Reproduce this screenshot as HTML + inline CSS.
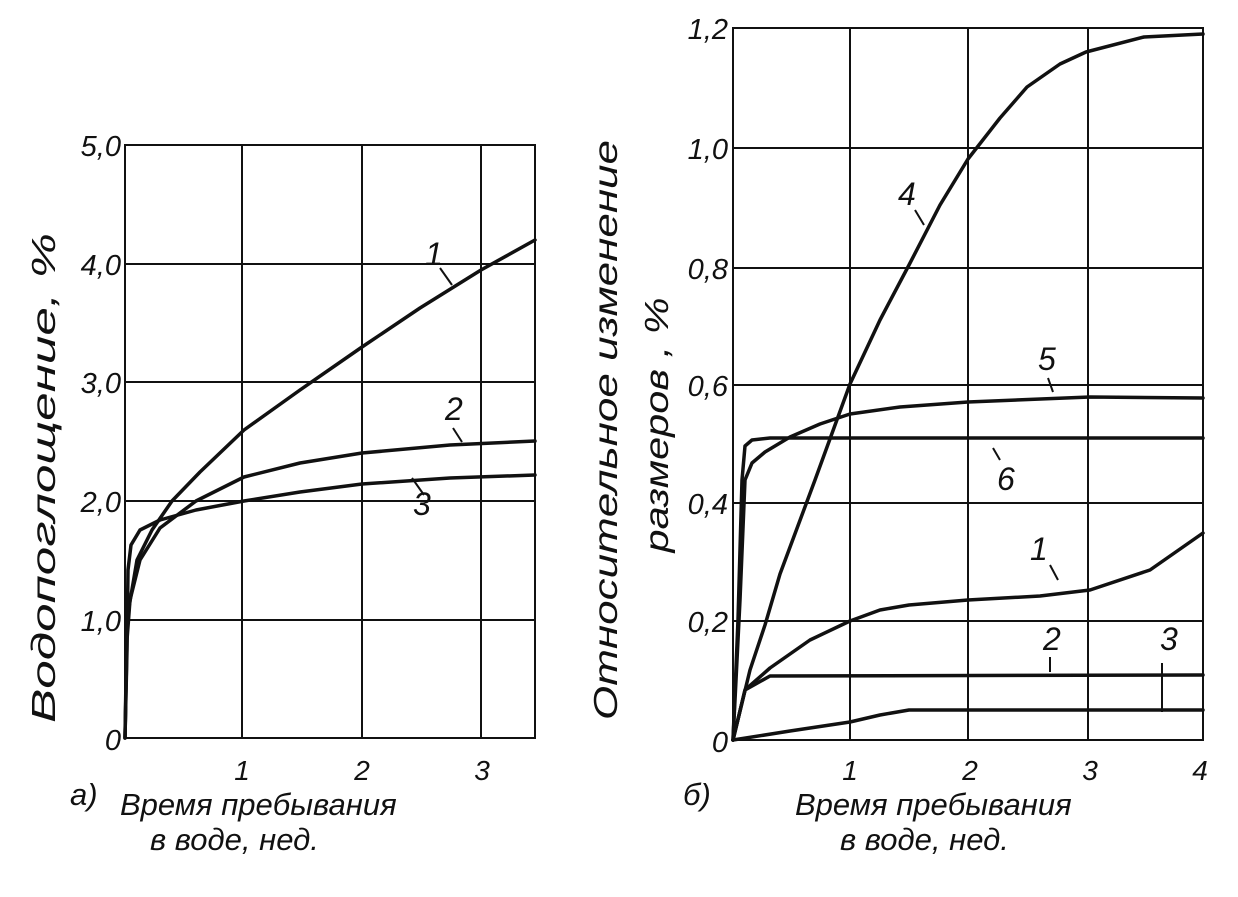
<!DOCTYPE html>
<html><head><meta charset="utf-8"><style>
body{margin:0;background:#fff}
text{font-family:"Liberation Sans",sans-serif;font-style:italic;fill:#111}
</style></head><body>
<svg width="1238" height="892" viewBox="0 0 1238 892" xmlns="http://www.w3.org/2000/svg">
<g stroke="#111" stroke-width="2" fill="none">
<rect x="125" y="145" width="410" height="593"/>
<line x1="242" y1="145" x2="242" y2="738"/><line x1="362" y1="145" x2="362" y2="738"/><line x1="481" y1="145" x2="481" y2="738"/>
<line x1="125" y1="264" x2="535" y2="264"/><line x1="125" y1="382" x2="535" y2="382"/><line x1="125" y1="501" x2="535" y2="501"/><line x1="125" y1="620" x2="535" y2="620"/>
<rect x="733" y="28" width="470" height="712"/>
<line x1="850" y1="28" x2="850" y2="740"/><line x1="968" y1="28" x2="968" y2="740"/><line x1="1088" y1="28" x2="1088" y2="740"/>
<line x1="733" y1="148" x2="1203" y2="148"/><line x1="733" y1="268" x2="1203" y2="268"/><line x1="733" y1="385" x2="1203" y2="385"/><line x1="733" y1="503" x2="1203" y2="503"/><line x1="733" y1="621" x2="1203" y2="621"/>
</g>
<g stroke="#111" stroke-width="3.5" fill="none" stroke-linejoin="round" stroke-linecap="round">
<polyline points="125,738 127,619 137,560 152,530 172,501 200,472 244,430 300,390 362,347 420,308 481,270 535,240"/>
<polyline points="125,738 127,640 130,600 140,560 160,528 196,501 244,477 300,463 362,453 450,445 535,441"/>
<polyline points="125,738 127,650 128,570 131,545 140,530 160,520 196,510 244,501 300,492 362,484 450,478 535,475"/>
<polyline points="733,740 750,670 765,625 780,574 815,480 850,384 880,320 909,265 940,205 968,159 1000,118 1027,87 1060,64 1086,52 1144,37 1203,34"/>
<polyline points="733,740 740,600 745,480 752,463 765,452 790,437 820,424 850,414 900,407 968,402 1090,397 1203,398"/>
<polyline points="733,740 738,620 742,480 745,446 752,440 770,438 1203,438"/>
<polyline points="733,740 745,690 770,668 810,640 850,621 880,610 909,605 968,600 1040,596 1090,590 1150,570 1203,533"/>
<polyline points="733,740 745,690 770,676 1203,675"/>
<polyline points="733,740 790,731 850,722 880,715 909,710 1203,710"/>
</g>
<g stroke="#111" stroke-width="2">
<line x1="440" y1="268" x2="452" y2="285"/><line x1="453" y1="428" x2="462" y2="442"/><line x1="412" y1="478" x2="424" y2="495"/>
<line x1="915" y1="210" x2="924" y2="225"/><line x1="1048" y1="378" x2="1053" y2="392"/><line x1="993" y1="448" x2="1000" y2="460"/>
<line x1="1050" y1="565" x2="1058" y2="580"/><line x1="1050" y1="657" x2="1050" y2="672"/><line x1="1162" y1="663" x2="1162" y2="712"/>
</g>
<g font-size="32">
<text x="425" y="265">1</text><text x="445" y="420">2</text><text x="413" y="515">3</text>
<text x="898" y="205">4</text><text x="1038" y="370">5</text><text x="997" y="490">6</text>
<text x="1030" y="560">1</text><text x="1043" y="650">2</text><text x="1160" y="650">3</text>
</g>
<g font-size="29" text-anchor="end">
<text x="121" y="156">5,0</text><text x="121" y="275">4,0</text><text x="121" y="393">3,0</text><text x="121" y="512">2,0</text><text x="121" y="631">1,0</text><text x="121" y="750">0</text>
<text x="728" y="39">1,2</text><text x="728" y="159">1,0</text><text x="728" y="279">0,8</text><text x="728" y="396">0,6</text><text x="728" y="514">0,4</text><text x="728" y="632">0,2</text><text x="728" y="752">0</text>
</g>
<g font-size="28" text-anchor="middle">
<text x="242" y="780">1</text><text x="362" y="780">2</text><text x="482" y="780">3</text>
<text x="850" y="780">1</text><text x="970" y="780">2</text><text x="1090" y="780">3</text><text x="1200" y="780">4</text>
</g>
<g font-size="31">
<text x="70" y="805">а)</text><text x="120" y="815">Время пребывания</text><text x="150" y="850">в воде,   нед.</text>
<text x="683" y="805">б)</text><text x="795" y="815">Время пребывания</text><text x="840" y="850">в воде, нед.</text>
</g>
<g font-size="33" text-anchor="middle">
<text transform="translate(55,478) rotate(-90)" textLength="490" lengthAdjust="spacingAndGlyphs">Водопоглощение,  %</text>
<text transform="translate(617,430) rotate(-90)" textLength="580" lengthAdjust="spacingAndGlyphs">Относительное   изменение</text>
<text transform="translate(668,425) rotate(-90)" textLength="255" lengthAdjust="spacingAndGlyphs">размеров , %</text>
</g>
</svg>
</body></html>
